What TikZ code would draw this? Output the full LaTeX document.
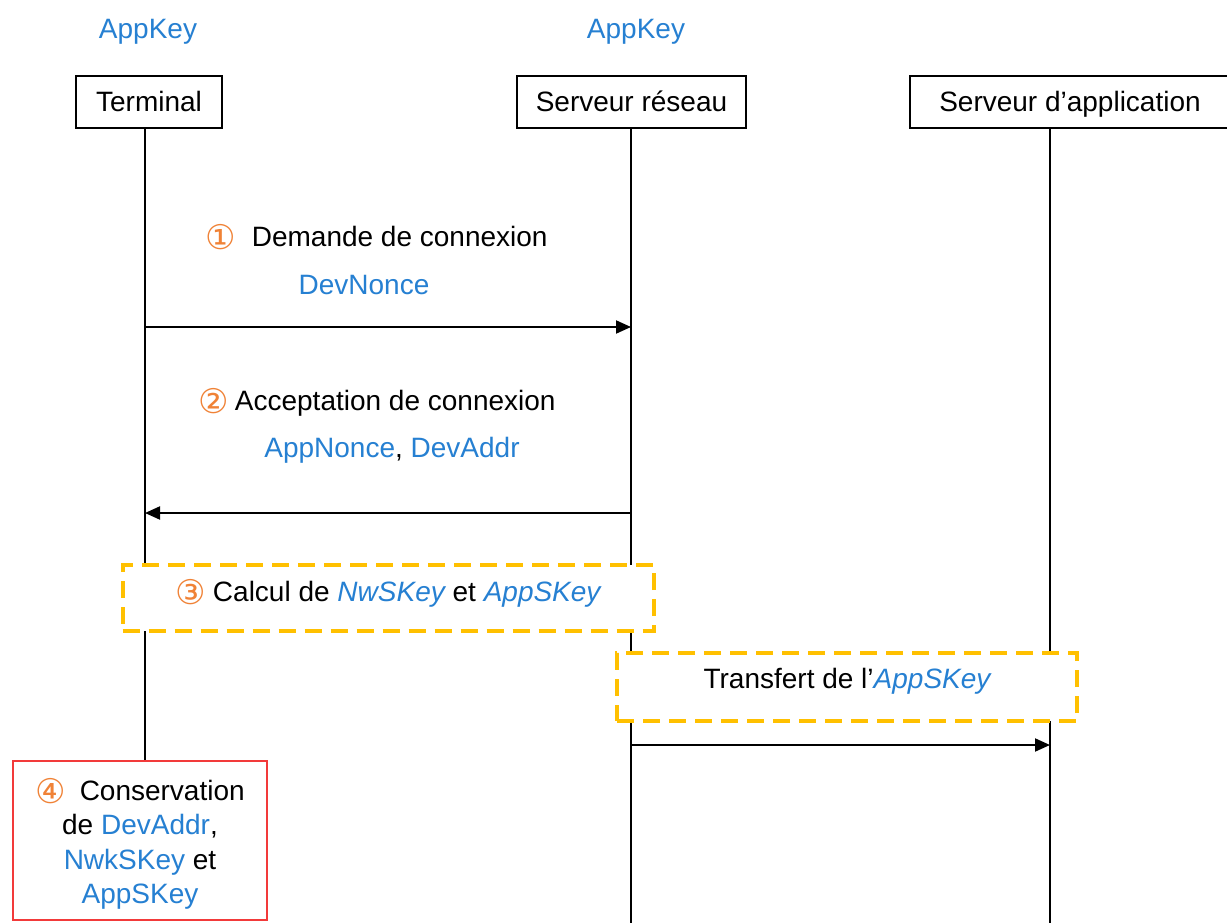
\documentclass[tikz,border=0pt]{standalone}
\usepackage{fontspec}
\setmainfont{Liberation Sans}
\newfontfamily\symfont{DejaVu Sans}
\usetikzlibrary{arrows.meta}
\definecolor{kblue}{HTML}{2680D2}
\definecolor{korange}{HTML}{F08236}
\definecolor{kyellow}{HTML}{FFC000}
\definecolor{kred}{HTML}{F23A3A}
\newcommand\cnumb[1]{{\symfont\fontsize{34}{34}\selectfont\color{korange}\raisebox{-3pt}{#1}}}
\newcommand\kb[1]{\textcolor{kblue}{#1}}
\newcommand\kbi[1]{\textcolor{kblue}{\itshape #1}}
\begin{document}
\begin{tikzpicture}[x=1pt,y=-1pt,
  every node/.style={font=\fontsize{28}{34.3}\selectfont, inner sep=0pt},
  actor/.style={draw, line width=2pt, minimum height=52pt, text height=20pt, text depth=0pt},
  lbl/.style={text height=20pt, text depth=0pt},
  life/.style={line width=2pt},
  msg/.style={line width=2pt, -{Triangle[length=15pt,width=13pt]}},
  stepbox/.style={draw=kyellow, line width=4pt, dash pattern=on 17pt off 9pt, fill=white, text height=20pt},
  keep/.style={draw=kred, line width=2pt, fill=white, align=center, minimum width=254pt, minimum height=159pt},
]
\useasboundingbox (0,0) rectangle (1227,923);
\clip (0,0) rectangle (1227,923);
\fill[white] (0,0) rectangle (1227,923);

% actors
\node[actor, minimum width=146pt] (term) at (149,102) {Terminal};
\node[actor, minimum width=229pt] (ns) at (631.5,102) {Serveur réseau};
\node[actor, minimum width=320pt] (as) at (1070,102) {Serveur d’application};

\node[lbl, text=kblue] (k1) at (148,29) {AppKey};
\node[lbl, text=kblue] (k2) at (636,29) {AppKey};

% lifeline x positions
\coordinate (tx) at (145,0);
\coordinate (nx) at (631,0);
\coordinate (ax) at (1050,0);
\coordinate (bottom) at (0,930);

\node[keep] (keep) at (140,840.5) {\rule{0pt}{29pt}\cnumb{④}\hspace{14pt}Conservation\\de \kb{DevAddr},\\\kb{NwkSKey} et\\\kb{AppSKey}};

\draw[life] (term.south -| tx) -- (keep.north -| tx);
\draw[life] (ns.south -| nx) -- (bottom -| nx);
\draw[life] (as.south -| ax) -- (bottom -| ax);

% messages
\coordinate (y1) at (0,327);
\coordinate (y2) at (0,513);
\coordinate (y3) at (0,745);
\draw[msg] (y1 -| tx) -- (y1 -| nx);
\draw[msg] (y2 -| nx) -- (y2 -| tx);
\draw[msg] (y3 -| nx) -- (y3 -| ax);

% labels
\node[lbl] (l1) at (376.5,236) {\cnumb{①}\hspace{16pt}Demande de connexion};
\node[lbl, text=kblue] (l1b) at (364,284) {DevNonce};
\node[lbl] (l2) at (377,400) {\cnumb{②}\hspace{6pt}Acceptation de connexion};
\node[lbl] (l2b) at (392,447) {\kb{AppNonce}, \kb{DevAddr}};

% step boxes
\node[stepbox, text depth=14pt, minimum width=531pt, minimum height=66pt] (calc) at (388,598)
  {\cnumb{③}\hspace{7pt}Calcul de \kbi{NwSKey} et \kbi{AppSKey}};
\node[stepbox, text depth=18pt, minimum width=460pt, minimum height=68pt] (transf) at (847,687)
  {Transfert de l’\kbi{AppSKey}};
\end{tikzpicture}
\end{document}
